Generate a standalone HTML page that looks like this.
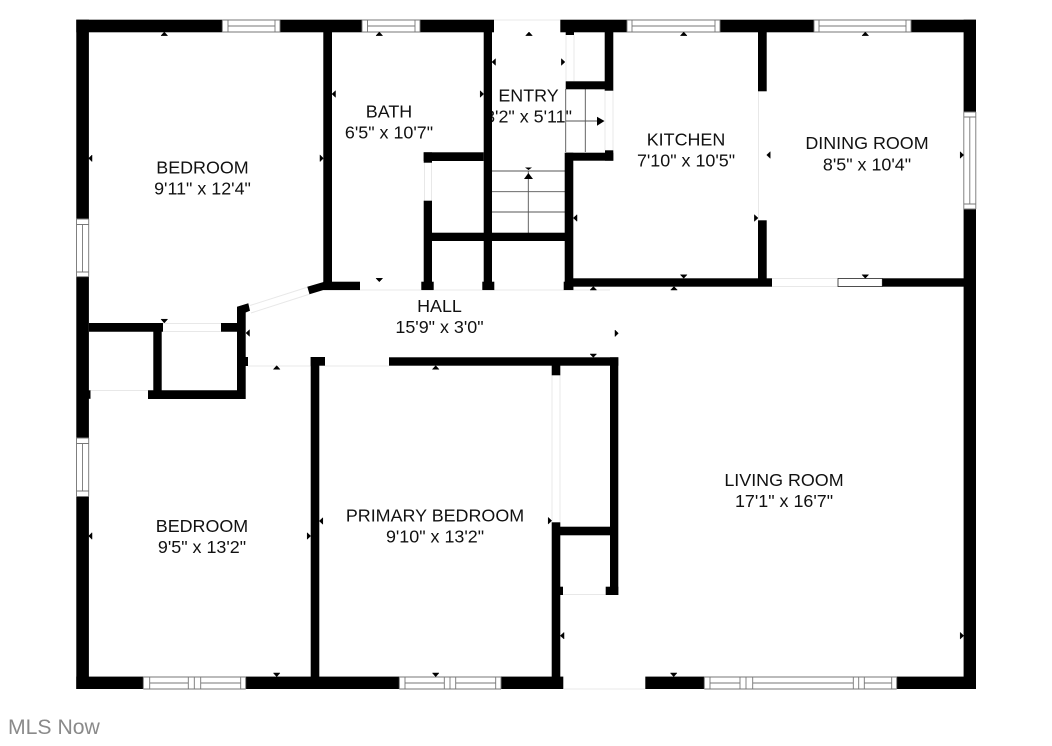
<!DOCTYPE html>
<html><head><meta charset="utf-8"><style>
html,body{margin:0;padding:0;background:#fff}
svg{display:block}
text{font-family:"Liberation Sans",sans-serif;font-size:17.9px;fill:#111;text-anchor:middle}
</style></head><body>
<svg width="1052" height="746" viewBox="0 0 1052 746" xmlns="http://www.w3.org/2000/svg">
<rect width="1052" height="746" fill="#fff"/>
<!-- labels (under walls) -->
<text x="202.5" y="173.3">BEDROOM</text><text x="202.5" y="194.3">9'11" x 12'4"</text>
<text x="389" y="117.3">BATH</text><text x="389" y="138.3">6'5" x 10'7"</text>
<text x="528.5" y="101.5">ENTRY</text><text x="528.5" y="122.3">3'2" x 5'11"</text>
<text x="686" y="145.5">KITCHEN</text><text x="686" y="166.5">7'10" x 10'5"</text>
<text x="867" y="149">DINING ROOM</text><text x="867" y="170.3">8'5" x 10'4"</text>
<text x="439.5" y="312">HALL</text><text x="439.5" y="333">15'9" x 3'0"</text>
<text x="202" y="532">BEDROOM</text><text x="202" y="553">9'5" x 13'2"</text>
<text x="435" y="521.5">PRIMARY BEDROOM</text><text x="435" y="542.5">9'10" x 13'2"</text>
<text x="784" y="486">LIVING ROOM</text><text x="784" y="507">17'1" x 16'7"</text>
<text x="8" y="734" style="font-size:21.2px;fill:#8a8a8a;text-anchor:start;font-weight:normal">MLS Now</text>

<!-- light door lines -->
<path fill="none" stroke="#e8e8e8" stroke-width="1" d="M90 390.5H148M163 323.5H221M163 331.5H221M248 366H311M325 366H389M360 290H421M434 290H482M494 290H564M573 290H610M772 278.5H838M772 286.5H838M758.5 91V220M424.5 162V201M431.5 162V201M552 375V522M560 375V522M563 594.5H606M566 35V81M574 35V81M605 90V150M613 90V150M250 305.5L308 287M251 313L310 294"/>

<!-- stairs -->
<path fill="none" stroke="#555" stroke-width="0.9" d="M492 171H565M492 191.7H565M492 212H565M528.3 233V171M565.7 89V152M585.3 89V152M566 121H598"/>
<path fill="#000" d="M524 179L528.4 173 533 179ZM525 167.5H532L528.5 170ZM597 116.7L604.5 121 597 125.7Z"/>

<!-- walls -->
<g fill="#000">
<rect x="76.3" y="19.7" width="899.7" height="12.6"/>
<rect x="76.3" y="19.7" width="12.6" height="476.6"/>
<rect x="76.3" y="438" width="12.6" height="251"/>
<rect x="963.6" y="19.7" width="12.4" height="669.3"/>
<rect x="76.3" y="676.6" width="899.7" height="12.4"/>
<rect x="323.3" y="32" width="8.7" height="258"/>
<rect x="323.3" y="281.7" width="36.7" height="8.4"/>
<path d="M307.3 286.7L323.5 282V290L309.5 294.3ZM237 306.7L248.3 303.3 250 310.7 245.7 312.5V399H148V390.3H153.3V331.7H89V323H163V331.7H161.7V390.3H237V331.7H221V323H237Z"/>
<rect x="245" y="357" width="3" height="9"/>
<rect x="88" y="390.3" width="2.5" height="8.5"/>
<rect x="310.7" y="357" width="8.6" height="332"/>
<rect x="310.7" y="357" width="14.3" height="8.7"/>
<rect x="389" y="357.3" width="229.3" height="8.4"/>
<rect x="610" y="357.3" width="8.3" height="237.7"/>
<rect x="605.7" y="586.7" width="12.6" height="8.3"/>
<rect x="551.7" y="360" width="8.6" height="15.3"/>
<rect x="551.7" y="522.3" width="8.6" height="166.7"/>
<rect x="560" y="526.7" width="50" height="8.6"/>
<rect x="560" y="586.7" width="3" height="8.3"/>
<rect x="483.7" y="32" width="8.3" height="258"/>
<rect x="482.3" y="281.7" width="12" height="8.4"/>
<rect x="423.7" y="200.7" width="8.3" height="89.3"/>
<rect x="421.3" y="281.7" width="12.4" height="8.4"/>
<rect x="423.7" y="152.3" width="60" height="8.7"/>
<rect x="423.7" y="152.3" width="8.3" height="10.4"/>
<rect x="432" y="232.7" width="141" height="8.3"/>
<rect x="564.7" y="152.7" width="8.6" height="137.3"/>
<rect x="563.7" y="281.7" width="9.6" height="8.4"/>
<rect x="565.7" y="152.7" width="47.6" height="8"/>
<rect x="605" y="150.3" width="8.3" height="10.4"/>
<rect x="604.7" y="32" width="8.6" height="58.7"/>
<rect x="565.7" y="81.3" width="47.3" height="8"/>
<rect x="565.7" y="32" width="8.3" height="3"/>
<rect x="573" y="278.3" width="199" height="8.4"/>
<rect x="882" y="278.3" width="82" height="8.4"/>
<rect x="758" y="32" width="8.7" height="59.3"/>
<rect x="758" y="220.3" width="8.7" height="66"/>
</g>

<!-- openings and windows -->
<g fill="#fff" stroke="none">
<rect x="494" y="19" width="66.3" height="14"/>
<rect x="563.3" y="676" width="82" height="14"/>
<rect x="222.3" y="19.7" width="57.7" height="12.6"/>
<rect x="362" y="19.7" width="58" height="12.6"/>
<rect x="627" y="19.7" width="93" height="12.6"/>
<rect x="814" y="19.7" width="97" height="12.6"/>
<rect x="76.3" y="219" width="12.6" height="57.7"/>
<rect x="76.3" y="438" width="12.6" height="58.5"/>
<rect x="963.6" y="112" width="12.4" height="97"/>
<rect x="143.3" y="676.7" width="102.4" height="12.3"/>
<rect x="399.3" y="676.7" width="101.7" height="12.3"/>
<rect x="704.3" y="676.7" width="192.4" height="12.3"/>
</g>
<path fill="none" stroke="#e8e8e8" stroke-width="1" d="M494 20H560M564 689H645"/>
<path fill="none" stroke="#777" stroke-width="0.9" d="
M222.3 20H280M222.3 32H280M228 20V32M275 20V32M228 26H275M222.3 20V32M280 20V32
M362 20H420M362 32H420M367.5 20V32M415 20V32M367.5 26H415M362 20V32M420 20V32
M627 20H720M627 32H720M632 20V32M715 20V32M632 26H715M627 20V32M720 20V32
M814 20H911M814 32H911M819 20V32M906 20V32M819 26H906M814 20V32M911 20V32
M76.5 219V276.7M88.7 219V276.7M76.5 224.5H88.7M76.5 272H88.7M82.5 224.5V272M76.5 219H88.7M76.5 276.7H88.7
M76.5 438V496.5M88.7 438V496.5M76.5 443.5H88.7M76.5 491H88.7M82.5 443.5V491M76.5 438H88.7M76.5 496.5H88.7
M963.8 112V209M975.8 112V209M963.8 117H975.8M963.8 204H975.8M969.8 117V204M963.8 112H975.8M963.8 209H975.8
M143.3 677H245.7M143.3 689H245.7M143.3 677V689M149.7 677V689M188.3 677V689M194.3 677V689M200.7 677V689M240.7 677V689M245.7 677V689M149.7 683H188.3M200.7 683H240.7
M399.3 677H501M399.3 689H501M399.3 677V689M405 677V689M444.3 677V689M450 677V689M455.7 677V689M495.7 677V689M501 677V689M405 683H444.3M455.7 683H495.7
M704.3 677H896.7M704.3 689H896.7M704.3 677V689M710 677V689M740 677V689M746 677V689M752.7 677V689M853.3 677V689M858.7 677V689M864.3 677V689M891.7 677V689M896.7 677V689M710 683H740M752.7 683H853.3M864.3 683H891.7"/>
<rect x="838" y="278.5" width="44.3" height="8" fill="#fff" stroke="#222" stroke-width="0.8"/>

<!-- measurement ticks -->
<path fill="#000" stroke="#000" stroke-width="0.5" d="
M161 35.6L164.3 32 167.6 35.6ZM376 35.6L379.3 32 382.6 35.6ZM525.7 35.6L529 32 532.3 35.6ZM680.4 35.6L683.7 32 687 35.6ZM862 35.6L865.3 32 868.6 35.6Z
M590 290L593.3 286.5 596.6 290ZM670.7 290L674 286.5 677.3 290ZM273.4 369.3L276.7 365.6 280 369.3ZM432.4 369.3L435.7 365.6 439 369.3Z
M680.4 274.8L683.7 278.3 687 274.8ZM862 274.8L865.3 278.3 868.6 274.8ZM376 278.3L379.3 281.8 382.6 278.3ZM161 319.2L164.3 323 167.6 319.2ZM590 354L593.3 357.4 596.6 354Z
M273.4 673L276.7 676.7 280 673ZM432.4 673L435.7 676.7 439 673ZM670.4 673L673.7 676.7 677 673Z
M92 155L88.6 158.3 92 161.6ZM335.5 90.7L332 94 335.5 97.3ZM495.5 58.7L492 62 495.5 65.3ZM577 214.7L573.3 218 577 221.3ZM770.2 151.7L766.7 155 770.2 158.3ZM92 532.7L88.6 536 92 539.3ZM322.8 517.7L319.3 521 322.8 524.3ZM249.5 329.7L246 333 249.5 336.3ZM564 632.4L560.3 635.7 564 639Z
M320 154.9L323.4 158.3 320 161.6ZM480.2 90.7L483.7 94 480.2 97.3ZM561.4 58.7L564.9 62 561.4 65.3ZM754.4 214.7L758 218 754.4 221.3ZM960.2 151.7L963.7 155 960.2 158.3ZM307.2 532.7L310.7 536 307.2 539.3ZM548.2 517.4L551.7 520.7 548.2 524ZM615 330L618.4 333.3 615 336.6ZM960.2 632.4L963.7 635.7 960.2 639Z"/>
</svg>
</body></html>
